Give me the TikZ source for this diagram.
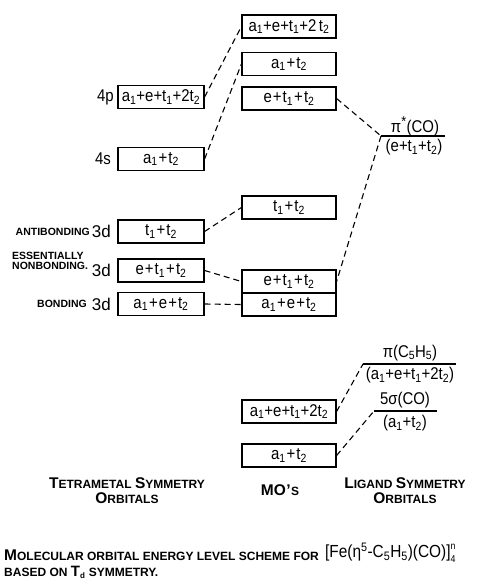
\documentclass[tikz,border=0pt]{standalone}
\usepackage{fontspec}
\usepackage{graphicx}
\setmainfont{Liberation Sans}
\newcommand\sbs[1]{\textsubscript{#1}}
\newcommand\pl{\kern1.2pt+\kern1.2pt}
\newcommand\bt[1]{\scalebox{0.88}[1]{#1}}
\newcommand\scap[2]{{\fontsize{15.5}{17}\selectfont #1}{\fontsize{12}{14}\selectfont #2}}
\begin{document}
\begin{tikzpicture}[x=1pt,y=-1pt,
  box/.style={draw, line width=1.2pt, minimum height=23pt, inner sep=0pt, font=\fontsize{17}{19}\selectfont},
  lbox/.style={box, minimum width=86pt},
  mbox/.style={box, minimum width=94pt},
  conn/.style={line width=1.1pt, dash pattern=on 6pt off 4pt},
  lev/.style={line width=1.5pt},
  lab/.style={font=\fontsize{17}{19}\selectfont, inner sep=0pt},
  dlab/.style={font=\fontsize{17}{19}\selectfont, inner sep=0pt},
  tlab/.style={font=\bfseries\fontsize{10.5}{10}\selectfont, inner sep=0pt},
  blab/.style={font=\bfseries\fontsize{12}{13.5}\selectfont, inner sep=0pt, align=center}]
\useasboundingbox (0,0) rectangle (480,584);

% left column
\node[lbox] (p4) at (161,97) {\bt{a\sbs{1}+e+t\sbs{1}+2t\sbs{2}}};
\node[lbox] (s4) at (161,159) {\bt{a\sbs{1}\pl t\sbs{2}}};
\node[lbox] (anti) at (161,231.5) {\bt{t\sbs{1}\pl t\sbs{2}}};
\node[lbox] (nonb) at (161,270.5) {\bt{e\pl t\sbs{1}\pl t\sbs{2}}};
\node[lbox] (bond) at (161,304) {\bt{a\sbs{1}\pl e\pl t\sbs{2}}};

\node[lab, anchor=east] (l4p) at (114,97) {\bt{4p}};
\node[lab, anchor=east] (l4s) at (111,159) {\bt{4s}};
\node[dlab, anchor=east] (d1) at (111,231.5) {3d};
\node[dlab, anchor=east] (d2) at (111,270.5) {3d};
\node[dlab, anchor=east] (d3) at (111,304) {3d};
\node[tlab, anchor=east] (tanti) at (90,232) {ANTIBONDING};
\node[tlab, anchor=west, align=left] (tnonb) at (12,261) {ESSENTIALLY\\NONBONDING.};
\node[tlab, anchor=east] (tbond) at (87,304) {BONDING};

% middle column
\node[mbox] (m1) at (289,26.5) {\bt{a\sbs{1}+e+t\sbs{1}+2\,t\sbs{2}}};
\node[mbox] (m2) at (289,64) {\bt{a\sbs{1}\pl t\sbs{2}}};
\node[mbox] (m3) at (289,98.5) {\bt{e\pl t\sbs{1}\pl t\sbs{2}}};
\node[mbox] (m4) at (289,207.5) {\bt{t\sbs{1}\pl t\sbs{2}}};
\node[mbox] (m5) at (289,281.5) {\bt{e\pl t\sbs{1}\pl t\sbs{2}}};
\node[mbox] (m6) at (289,304.5) {\bt{a\sbs{1}\pl e\pl t\sbs{2}}};
\node[mbox] (m7) at (289,411.5) {\bt{a\sbs{1}+e+t\sbs{1}+2t\sbs{2}}};
\node[mbox] (m8) at (289,455.5) {\bt{a\sbs{1}\pl t\sbs{2}}};

% ligand levels
\coordinate (ps1) at (381,136);
\coordinate (ps2) at (445,136);
\draw[lev] (ps1) -- (ps2);
\node[lab] (pslab) at (415,126) {\bt{π\textsuperscript{\Large *}(CO)}};
\node[lab] (psym) at (414,147.5) {\bt{(e+t\sbs{1}+t\sbs{2})}};

\coordinate (pc1) at (363,364);
\coordinate (pc2) at (456,364);
\draw[lev] (pc1) -- (pc2);
\node[lab] (pclab) at (410,353) {\bt{π(C\sbs{5}H\sbs{5})}};
\node[lab] (pcsym) at (410,375.5) {\bt{(a\sbs{1}+e+t\sbs{1}+2t\sbs{2})}};

\coordinate (sg1) at (374,411);
\coordinate (sg2) at (437,411);
\draw[lev] (sg1) -- (sg2);
\node[lab] (sglab) at (405,400) {\bt{5σ(CO)}};
\node[lab] (sgsym) at (405,423.5) {\bt{(a\sbs{1}+t\sbs{2})}};

% connectors
\draw[conn] (p4.east) -- (m1.west);
\draw[conn] (s4.east) -- (m2.west);
\draw[conn] (m3.east) -- (ps1);
\draw[conn] (ps1) -- (m5.east);
\draw[conn] (anti.east) -- (m4.west);
\draw[conn] (nonb.east) -- (m5.west);
\draw[conn] (bond.east) -- (m6.west);
\draw[conn] (m7.east) -- (pc1);
\draw[conn] (m8.east) -- (sg1);

% column titles
\node[blab] (ct1) at (127,491) {\scap{T}{ETRAMETAL} \scap{S}{YMMETRY}\\[1.5pt]\scap{O}{RBITALS}};
\node[blab] (ct2) at (280,490) {\fontsize{15.5}{17}\selectfont MO\kern.5pt'\kern.5pt{\fontsize{12}{14}\selectfont S}};
\node[blab] (ct3) at (405,491) {\scap{L}{IGAND} \scap{S}{YMMETRY}\\[1.5pt]\scap{O}{RBITALS}};

% caption
\node[inner sep=0pt, anchor=west, font=\bfseries] (cap1) at (4,555) {\scap{M}{OLECULAR ORBITAL ENERGY LEVEL SCHEME FOR}};
\node[inner sep=0pt, anchor=west, font=\fontsize{17.5}{19}\selectfont] (form) at (325,553) {\bt{[Fe(η\textsuperscript{5}-C\sbs{5}H\sbs{5})(CO)]\rlap{\raisebox{8pt}{\fontsize{10}{10}\selectfont n}}\raisebox{-5pt}{\fontsize{10}{10}\selectfont 4}}};
\node[inner sep=0pt, anchor=west, font=\bfseries] (cap2) at (4,572) {{\fontsize{12}{14}\selectfont BASED ON }{\fontsize{15}{17}\selectfont T}{\fontsize{12}{14}\selectfont\sbs{d} SYMMETRY.}};
\end{tikzpicture}
\end{document}
